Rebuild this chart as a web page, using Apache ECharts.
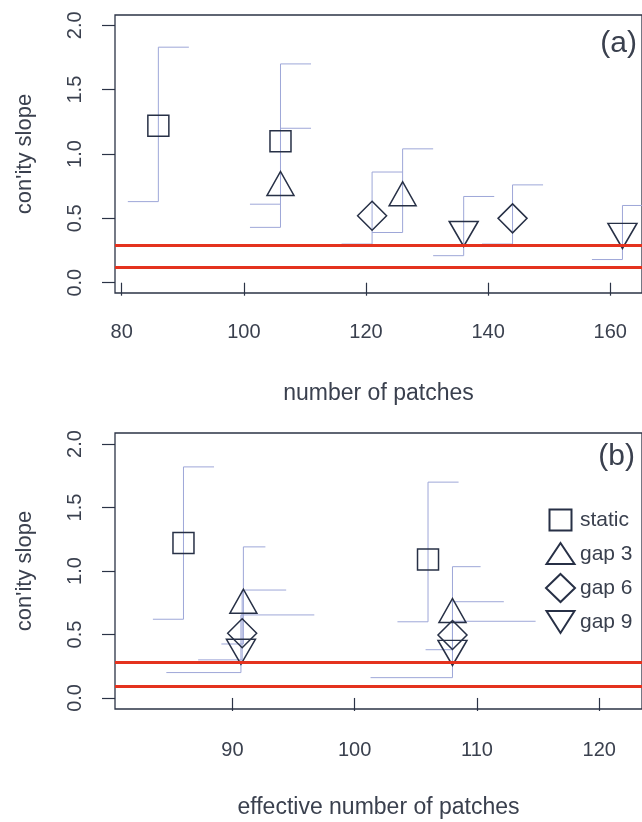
<!DOCTYPE html>
<html><head><meta charset="utf-8">
<script src="https://cdn.jsdelivr.net/npm/echarts@6/dist/echarts.min.js"></script>
<style>html,body{margin:0;padding:0;background:#fff}#c{width:642px;height:822px}</style>
</head><body><div id="c"></div>
<script>
// ---------- tick labels ----------
const xTicksA = [80, 100, 120, 140, 160];
const xTicksB = [90, 100, 110, 120];
const yTicks = [0, 0.5, 1.0, 1.5, 2.0];
const names = ['static', 'gap 3', 'gap 6', 'gap 9'];

// ---------- panel (a): number of patches ----------
const aStaticX = [86, 106], aStaticY = [1.22, 1.10], aStaticLo = [0.63, 0.61], aStaticHi = [1.83, 1.70], aStaticXl = [81, 101], aStaticXr = [91, 111];
const aGap3X = [106, 126], aGap3Y = [0.74, 0.66], aGap3Lo = [0.43, 0.39], aGap3Hi = [1.20, 1.04], aGap3Xl = [101, 121], aGap3Xr = [111, 131];
const aGap6X = [121, 144], aGap6Y = [0.52, 0.50], aGap6Lo = [0.30, 0.30], aGap6Hi = [0.86, 0.76], aGap6Xl = [116, 139], aGap6Xr = [126, 149];
const aGap9X = [136, 162], aGap9Y = [0.41, 0.395], aGap9Lo = [0.21, 0.18], aGap9Hi = [0.67, 0.60], aGap9Xl = [131, 157], aGap9Xr = [141, 167];
const aRef = [0.115, 0.29];

// ---------- panel (b): effective number of patches ----------
const bStaticX = [86, 106], bStaticY = [1.22, 1.09], bStaticLo = [0.62, 0.60], bStaticHi = [1.82, 1.70], bStaticXl = [83.5, 103.5], bStaticXr = [88.5, 108.5];
const bGap3X = [90.9, 108.0], bGap3Y = [0.73, 0.657], bGap3Lo = [0.425, 0.38], bGap3Hi = [1.19, 1.034], bGap3Xl = [89.1, 105.8], bGap3Xr = [92.7, 110.3];
const bGap6X = [90.8, 108.0], bGap6Y = [0.51, 0.496], bGap6Lo = [0.30, 0.278], bGap6Hi = [0.85, 0.758], bGap6Xl = [87.2, 103.8], bGap6Xr = [94.4, 112.2];
const bGap9X = [90.7, 108.0], bGap9Y = [0.395, 0.387], bGap9Lo = [0.20, 0.16], bGap9Hi = [0.654, 0.604], bGap9Xl = [84.6, 101.3], bGap9Xr = [96.7, 114.8];
const bRef = [0.09, 0.275];

// ---------- styles ----------
const FONT = "'Liberation Sans', Arial, Helvetica, sans-serif";
const TXT = '#3a404e';
const AX = '#2b3346';
const MK = '#273046';
const ERR = '#9ea7d8';
const RED = '#e4321e';

const symbols = {
  'static': {symbol: 'rect', size: [21, 21], offset: [0, 0],
             icon: 'path://M0,0M29,28M3.5,3.5L25.5,3.5L25.5,24.5L3.5,24.5Z'},
  'gap 3': {symbol: 'triangle', size: [27, 24], offset: [0, -4],
             icon: 'path://M0,0M29,28M14.5,3L28.5,24L0.5,24Z'},
  'gap 6': {symbol: 'diamond', size: [29, 29], offset: [0, 0],
             icon: 'path://M14.5,0L29,14L14.5,28L0,14Z'},
  'gap 9': {symbol: 'path://M0,0L2,0L1,1.73Z', size: [29, 25], offset: [0, 4],
             icon: 'path://M0,0M29,28M0.5,3L28.5,3L14.5,25Z'}
};

function zip(x, y) { return x.map((v, i) => [v, y[i]]); }
function zipErr(x, lo, hi, xl, xr) { return x.map((v, i) => [v, lo[i], hi[i], xl[i], xr[i]]); }

function errRender(params, api) {
  const x = api.value(0), lo = api.value(1), hi = api.value(2), xl = api.value(3), xr = api.value(4);
  const pts = [api.coord([xl, lo]), api.coord([x, lo]), api.coord([x, hi]), api.coord([xr, hi])];
  return {type: 'polyline', shape: {points: pts}, style: {stroke: ERR, lineWidth: 1, fill: 'none'}};
}

const panels = [
  {sets: [
    [aStaticX, aStaticY, aStaticLo, aStaticHi, aStaticXl, aStaticXr],
    [aGap3X, aGap3Y, aGap3Lo, aGap3Hi, aGap3Xl, aGap3Xr],
    [aGap6X, aGap6Y, aGap6Lo, aGap6Hi, aGap6Xl, aGap6Xr],
    [aGap9X, aGap9Y, aGap9Lo, aGap9Hi, aGap9Xl, aGap9Xr]], ref: aRef},
  {sets: [
    [bStaticX, bStaticY, bStaticLo, bStaticHi, bStaticXl, bStaticXr],
    [bGap3X, bGap3Y, bGap3Lo, bGap3Hi, bGap3Xl, bGap3Xr],
    [bGap6X, bGap6Y, bGap6Lo, bGap6Hi, bGap6Xl, bGap6Xr],
    [bGap9X, bGap9Y, bGap9Lo, bGap9Hi, bGap9Xl, bGap9Xr]], ref: bRef}
];

const series = [];
panels.forEach((p, gi) => {
  p.sets.forEach((s, si) => {
    series.push({
      type: 'custom', name: 'err' + gi + si, xAxisIndex: gi, yAxisIndex: gi,
      renderItem: errRender, data: zipErr(s[0], s[2], s[3], s[4], s[5]),
      encode: {x: [0, 3, 4], y: [1, 2]}, silent: true, z: 1,
      markLine: si === 0 ? {
        silent: true, symbol: ['none', 'none'], label: {show: false},
        lineStyle: {color: RED, width: 3, type: 'solid', opacity: 1},
        emphasis: {disabled: true},
        data: p.ref.map(v => ({yAxis: v}))
      } : undefined
    });
  });
  p.sets.forEach((s, si) => {
    const nm = names[si];
    series.push({
      type: 'scatter', name: nm, xAxisIndex: gi, yAxisIndex: gi,
      data: zip(s[0], s[1]),
      symbol: symbols[nm].symbol, symbolSize: symbols[nm].size, symbolOffset: symbols[nm].offset,
      itemStyle: {color: 'rgba(255,255,255,0)', borderColor: MK, borderWidth: 1.5, opacity: 1},
      emphasis: {disabled: true}, z: 3
    });
  });
});

function xAxis(gi, min, max, ticks, name, margin, gap) {
  return {
    type: 'value', gridIndex: gi, min: min, max: max,
    axisLine: {show: false},
    axisTick: {show: true, customValues: ticks, inside: false, length: 13, lineStyle: {color: AX, width: 1.2}},
    axisLabel: {customValues: ticks, margin: margin, fontSize: 20, color: TXT, fontFamily: FONT},
    splitLine: {show: false},
    name: name, nameLocation: 'middle', nameGap: gap,
    nameTextStyle: {fontSize: 23, color: TXT, fontFamily: FONT}
  };
}
function yAxis(gi, min, max) {
  return {
    type: 'value', gridIndex: gi, min: min, max: max,
    axisLine: {show: false},
    axisTick: {show: true, customValues: yTicks, inside: false, length: 13, lineStyle: {color: AX, width: 1.2}},
    axisLabel: {customValues: yTicks, rotate: 90, margin: 30, fontSize: 20, color: TXT, fontFamily: FONT,
      formatter: v => v.toFixed(1)},
    splitLine: {show: false},
    name: "con'ity slope", nameLocation: 'middle', nameGap: 79, nameRotate: 90,
    nameTextStyle: {fontSize: 22, color: TXT, fontFamily: FONT}
  };
}

const option = {
  animation: false,
  backgroundColor: '#ffffff',
  grid: [
    {left: 115, top: 15, width: 530, height: 278, show: true, borderColor: AX, borderWidth: 1.3, backgroundColor: 'transparent'},
    {left: 115, top: 433, width: 530, height: 276, show: true, borderColor: AX, borderWidth: 1.3, backgroundColor: 'transparent'}
  ],
  xAxis: [xAxis(0, 78.9, 165.2, xTicksA, 'number of patches', 29, 89),
          xAxis(1, 80.4, 123.5, xTicksB, 'effective number of patches', 31, 87)],
  yAxis: [yAxis(0, -0.08, 2.08), yAxis(1, -0.087, 2.087)],
  legend: {
    show: true, orient: 'vertical', left: 540, top: 500,
    itemWidth: 29, itemHeight: 28, itemGap: 4,
    selectedMode: false,
    textStyle: {fontSize: 21, color: TXT, fontFamily: FONT},
    data: names.map(n => ({name: n, icon: symbols[n].icon}))
  },
  graphic: [
    {type: 'text', right: 5, top: 29, style: {text: '(a)', fontSize: 30, fill: TXT, fontFamily: FONT}},
    {type: 'text', right: 7, top: 442, style: {text: '(b)', fontSize: 30, fill: TXT, fontFamily: FONT}}
  ],
  series: series
};

const chart = echarts.init(document.getElementById('c'), null, {renderer: 'canvas'});
chart.setOption(option);
</script>
</body></html>
